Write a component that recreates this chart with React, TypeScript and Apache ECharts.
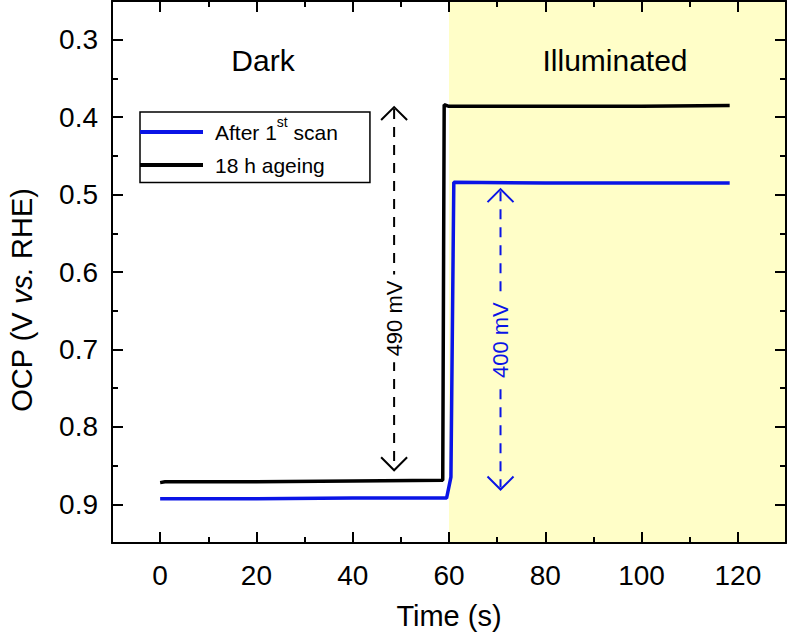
import React, { useEffect, useRef } from "react";
import * as echarts from "echarts";

// ---- data ----
const blueTime = [0, 20, 40, 59.5, 60.4, 61.0, 80, 100, 118.3];
const blueOCP = [0.893, 0.893, 0.892, 0.892, 0.865, 0.484, 0.485, 0.485, 0.485];
const blackTime = [0, 1, 20, 40, 58.7, 59.0, 60, 80, 100, 118.3];
const blackOCP = [0.872, 0.871, 0.871, 0.870, 0.869, 0.384, 0.386, 0.386, 0.386, 0.385];
const seriesNames = ["After 1st scan", "18 h ageing"];
const seriesColors = ["#0a14e6", "#000000"];

const xMajor = [0, 20, 40, 60, 80, 100, 120];
const xMinor = [10, 30, 50, 70, 90, 110];
const yMajor = [0.3, 0.4, 0.5, 0.6, 0.7, 0.8, 0.9];
const yMinor = [0.35, 0.45, 0.55, 0.65, 0.75, 0.85];

const lightOn = 60;
const regionLabels = ["Dark", "Illuminated"];

const arrowX = [48.6, 70.7];
const arrowTop = [0.387, 0.493];
const arrowBottom = [0.856, 0.881];
const arrowLabelY = [0.66, 0.688];
const arrowLabels = ["490 mV", "400 mV"];
const arrowColors = ["#000000", "#0a14e6"];
const arrowBg = ["#ffffff", "#fffec8"];

const FONT = "Liberation Sans, Arial, Helvetica, sans-serif";
const YELLOW = "#fffec8";

export default function App() {
  const ref = useRef<HTMLDivElement>(null);
  useEffect(() => {
    if (!ref.current) return;
    const chart = echarts.init(ref.current, null, { renderer: "svg" });

    const xBase = (pos: string, ticks: number[], len: number, labels: boolean, line: boolean) => ({
      type: "value",
      min: -10,
      max: 130,
      position: pos,
      z: 10,
      axisLine: { show: line, onZero: false, lineStyle: { color: "#000", width: 2 } },
      axisTick: { show: true, inside: true, length: len, customValues: ticks, lineStyle: { color: "#000", width: 2 } },
      axisLabel: labels
        ? { show: true, customValues: ticks, fontSize: 28, color: "#000", margin: 18, fontFamily: FONT }
        : { show: false, customValues: ticks },
      splitLine: { show: false },
    });
    const yBase = (pos: string, ticks: number[], len: number, labels: boolean, line: boolean) => ({
      type: "value",
      min: 0.25,
      max: 0.95,
      inverse: true,
      position: pos,
      z: 10,
      axisLine: { show: line, onZero: false, lineStyle: { color: "#000", width: 2 } },
      axisTick: { show: true, inside: true, length: len, customValues: ticks, lineStyle: { color: "#000", width: 2 } },
      axisLabel: labels
        ? {
            show: true,
            customValues: ticks,
            fontSize: 28,
            color: "#000",
            margin: 14,
            fontFamily: FONT,
            formatter: (v: number) => v.toFixed(1),
          }
        : { show: false, customValues: ticks },
      splitLine: { show: false },
    });

    const xAxes: any[] = [
      {
        ...xBase("bottom", xMajor, 11, true, true),
        name: "Time (s)",
        nameLocation: "middle",
        nameGap: 58,
        nameTextStyle: { fontSize: 29, color: "#000", fontFamily: FONT },
      },
      xBase("bottom", xMinor, 6, false, false),
      xBase("top", xMajor, 11, false, true),
      xBase("top", xMinor, 6, false, false),
    ];
    const yAxes: any[] = [
      {
        ...yBase("left", yMajor, 11, true, true),
        name: "OCP (V {i|vs.} RHE)",
        nameLocation: "middle",
        nameGap: 76,
        nameTextStyle: {
          fontSize: 29,
          color: "#000",
          fontFamily: FONT,
          padding: [0, 56, 0, 0],
          rich: { i: { fontSize: 29, fontStyle: "italic", color: "#000", fontFamily: FONT } },
        },
      },
      yBase("left", yMinor, 6, false, false),
      yBase("right", yMajor, 11, false, true),
      yBase("right", yMinor, 6, false, false),
    ];

    const arrowData = arrowX.map((x, i) => [x, arrowTop[i], arrowBottom[i], arrowLabelY[i], i]);

    chart.setOption({
      animation: false,
      backgroundColor: "#fff",
      textStyle: { fontFamily: FONT },
      grid: { left: 112, right: 2, top: 1, bottom: 95, containLabel: false, outerBoundsMode: "none" },
      xAxis: xAxes,
      yAxis: yAxes,
      legend: {
        show: true,
        orient: "vertical",
        left: 140,
        top: 112,
        icon: "rect",
        itemWidth: 63,
        itemHeight: 4,
        itemGap: 12,
        padding: [3, 32, 7, 0],
        borderColor: "#000",
        borderWidth: 1.5,
        backgroundColor: "#fff",
        data: seriesNames,
        textStyle: {
          color: "#000",
          fontFamily: FONT,
          fontSize: 21,
          padding: [0, 0, 0, 7],
          rich: {
            a: { fontSize: 21, lineHeight: 34, color: "#000", fontFamily: FONT },
            b: { fontSize: 21, lineHeight: 26, color: "#000", fontFamily: FONT },
            s: { fontSize: 14, lineHeight: 14, verticalAlign: "top", color: "#000", fontFamily: FONT },
          },
        },
        formatter: (name: string) =>
          name === seriesNames[0] ? "{a|After 1}{s|st}{a| scan}" : "{b|" + name + "}",
      },
      graphic: [
        {
          type: "text",
          x: 263,
          y: 60,
          z: 20,
          style: { text: regionLabels[0], fontSize: 30, fill: "#000", align: "center", verticalAlign: "middle", fontFamily: FONT },
        },
        {
          type: "text",
          x: 615,
          y: 60,
          z: 20,
          style: { text: regionLabels[1], fontSize: 30, fill: "#000", align: "center", verticalAlign: "middle", fontFamily: FONT },
        },
      ],
      series: [
        {
          type: "line",
          name: "__bg",
          data: [],
          z: 0,
          silent: true,
          markArea: {
            silent: true,
            itemStyle: { color: YELLOW },
            data: [[{ xAxis: lightOn }, { xAxis: 130 }]],
          },
        },
        {
          type: "line",
          name: seriesNames[0],
          data: blueTime.map((t, i) => [t, blueOCP[i]]),
          showSymbol: false,
          symbol: "none",
          z: 5,
          lineStyle: { color: seriesColors[0], width: 3.5 },
          itemStyle: { color: seriesColors[0] },
        },
        {
          type: "line",
          name: seriesNames[1],
          data: blackTime.map((t, i) => [t, blackOCP[i]]),
          showSymbol: false,
          symbol: "none",
          z: 5,
          lineStyle: { color: seriesColors[1], width: 3.5 },
          itemStyle: { color: seriesColors[1] },
        },
        {
          type: "custom",
          name: "__arrows",
          z: 6,
          silent: true,
          data: arrowData,
          renderItem: (params: any, api: any) => {
            const idx = api.value(4);
            const x = api.value(0);
            const top = api.coord([x, api.value(1)]);
            const bot = api.coord([x, api.value(2)]);
            const mid = api.coord([x, api.value(3)]);
            const c = arrowColors[idx];
            const h = 13;
            return {
              type: "group",
              children: [
                {
                  type: "line",
                  shape: { x1: top[0], y1: top[1] + 2, x2: bot[0], y2: bot[1] - 2 },
                  style: { stroke: c, lineWidth: 2, lineDash: [10, 8] },
                },
                {
                  type: "polyline",
                  shape: { points: [[top[0] - h, top[1] + h], [top[0], top[1]], [top[0] + h, top[1] + h]] },
                  style: { stroke: c, lineWidth: 2, fill: "none" },
                },
                {
                  type: "polyline",
                  shape: { points: [[bot[0] - h, bot[1] - h], [bot[0], bot[1]], [bot[0] + h, bot[1] - h]] },
                  style: { stroke: c, lineWidth: 2, fill: "none" },
                },
                {
                  type: "text",
                  x: mid[0],
                  y: mid[1],
                  rotation: Math.PI / 2,
                  style: {
                    text: arrowLabels[idx],
                    fontSize: 22,
                    fill: c,
                    align: "center",
                    verticalAlign: "middle",
                    fontFamily: FONT,
                    backgroundColor: arrowBg[idx],
                    padding: [0, 6],
                  },
                },
              ],
            };
          },
        },
      ],
    } as any);
    return () => chart.dispose();
  }, []);
  return <div ref={ref} style={{ width: 788, height: 638, position: "absolute", left: 0, top: 0 }} />;
}
